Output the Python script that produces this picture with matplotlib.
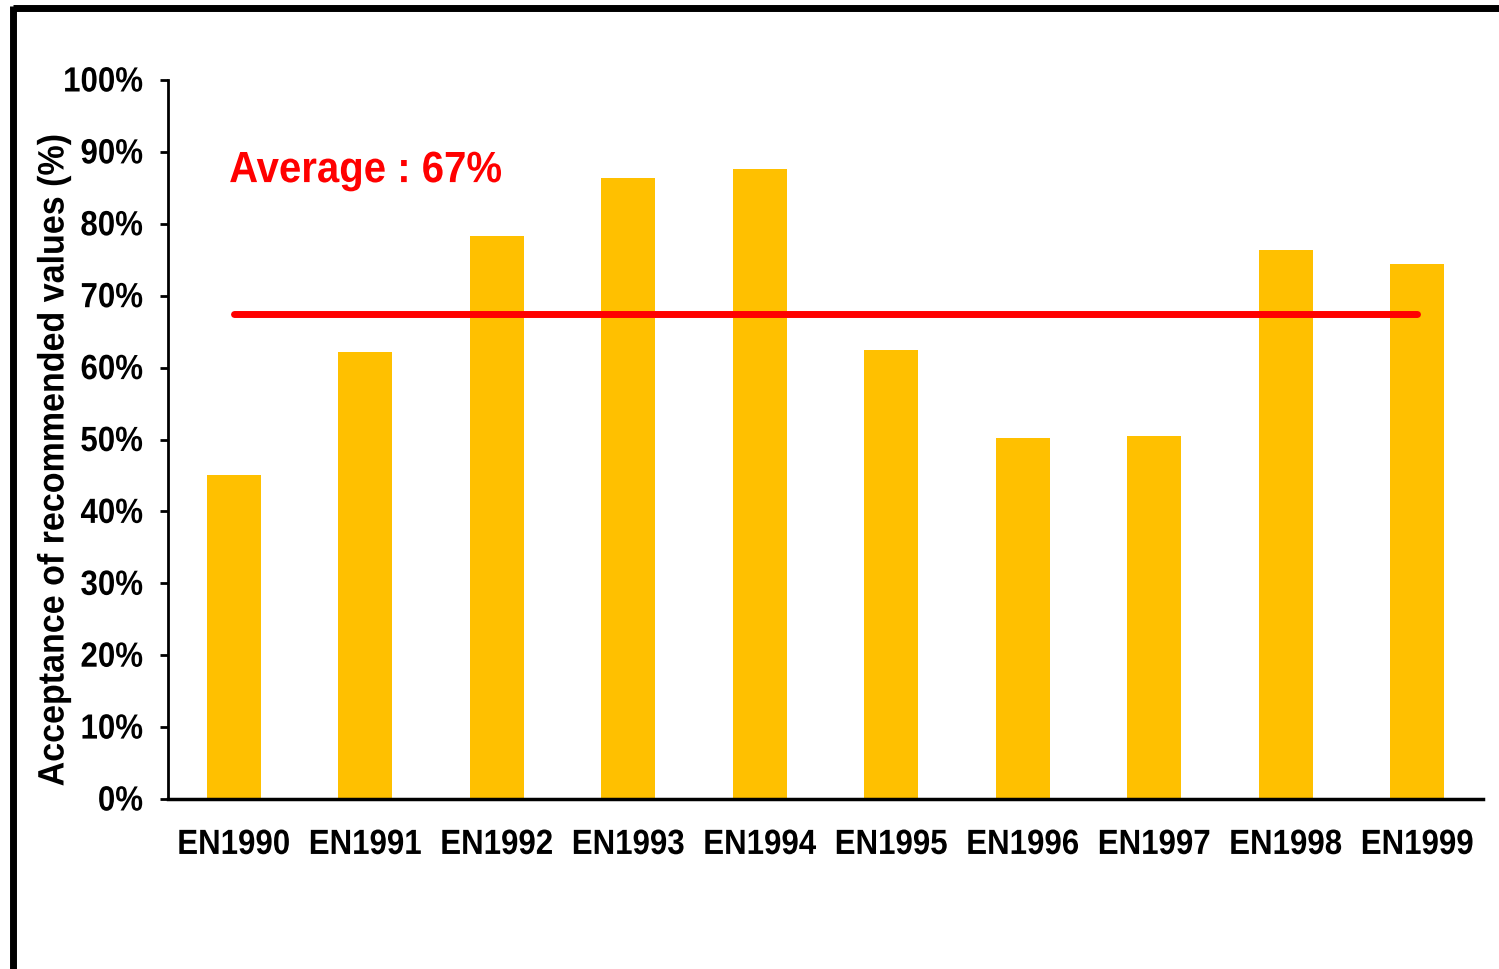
import matplotlib
matplotlib.use("Agg")
import matplotlib.pyplot as plt
from matplotlib.lines import Line2D
from matplotlib.ticker import PercentFormatter
from matplotlib.patheffects import AbstractPathEffect
from matplotlib.transforms import Affine2D

categories = ["EN1990", "EN1991", "EN1992", "EN1993", "EN1994",
              "EN1995", "EN1996", "EN1997", "EN1998", "EN1999"]
acceptance = [45.0, 62.2, 78.3, 86.4, 87.6, 62.4, 50.2, 50.5, 76.4, 74.4]
average_value = 67.5
average_label = "Average : 67%"
y_ticks = [0, 10, 20, 30, 40, 50, 60, 70, 80, 90, 100]


class VStretch(AbstractPathEffect):
    """Stretch glyphs perpendicular to the baseline (taller letters)."""
    def __init__(self, sy):
        super().__init__()
        self.sy = sy

    def draw_path(self, renderer, gc, tpath, affine, rgbFace=None):
        renderer.draw_path(gc, tpath, Affine2D().scale(1, self.sy) + affine, rgbFace)


plt.rcParams['font.family'] = ['Liberation Sans', 'DejaVu Sans']
plt.rcParams['font.weight'] = 'bold'

W, H = 1499, 969
fig = plt.figure(figsize=(W / 100, H / 100), dpi=100)
ax = fig.add_axes([168 / W, 1 - 799 / H, (1483 - 168) / W, (799 - 80) / H])

x = list(range(len(categories)))
ax.bar(x, acceptance, width=0.41, color="#FFC000", zorder=2)
ax.plot([x[0], x[-1]], [average_value, average_value], color="#FF0000",
        lw=5, solid_capstyle="round", zorder=3)
ax.text(-0.035, 85.8, average_label, color="#FF0000", fontsize=28.9,
        fontweight="bold", ha="left", va="baseline",
        path_effects=[VStretch(1.09)])

ax.set_xlim(-0.5, 9.5)
ax.set_ylim(0, 100)
ax.set_yticks(y_ticks)
ax.yaxis.set_major_formatter(PercentFormatter(decimals=0))
ax.set_xticks(x)
ax.set_xticklabels(categories)
ax.tick_params(axis="x", length=0, pad=23, labelsize=22.5)
ax.tick_params(axis="y", length=6, width=2, direction="out", pad=12, labelsize=22.5)
for t in ax.xaxis.get_major_ticks() + ax.yaxis.get_major_ticks():
    t.label1.set_fontweight("bold")
    t.label1.set_path_effects([VStretch(1.12)])
for s in ["top", "right"]:
    ax.spines[s].set_visible(False)
ax.spines["left"].set_linewidth(2)
ax.spines["bottom"].set_linewidth(2.5)

ylab = ax.set_ylabel("Acceptance of recommended values (%)", fontsize=24.5,
                     fontweight="bold")
ylab.set_va("center")
ylab.set_path_effects([VStretch(1.08)])
ax.yaxis.set_label_coords((55 - 168) / 1315, (799 - 460) / 719)

# figure frame (top and left edges)
fig.add_artist(Line2D([13 / W, 1.0], [1 - 8 / H, 1 - 8 / H], color="black",
                      lw=5, transform=fig.transFigure, solid_capstyle="butt"))
fig.add_artist(Line2D([13 / W, 13 / W], [1 - 6 / H, 0.0], color="black",
                      lw=5, transform=fig.transFigure, solid_capstyle="butt"))

fig.savefig("out.png", dpi=100)
